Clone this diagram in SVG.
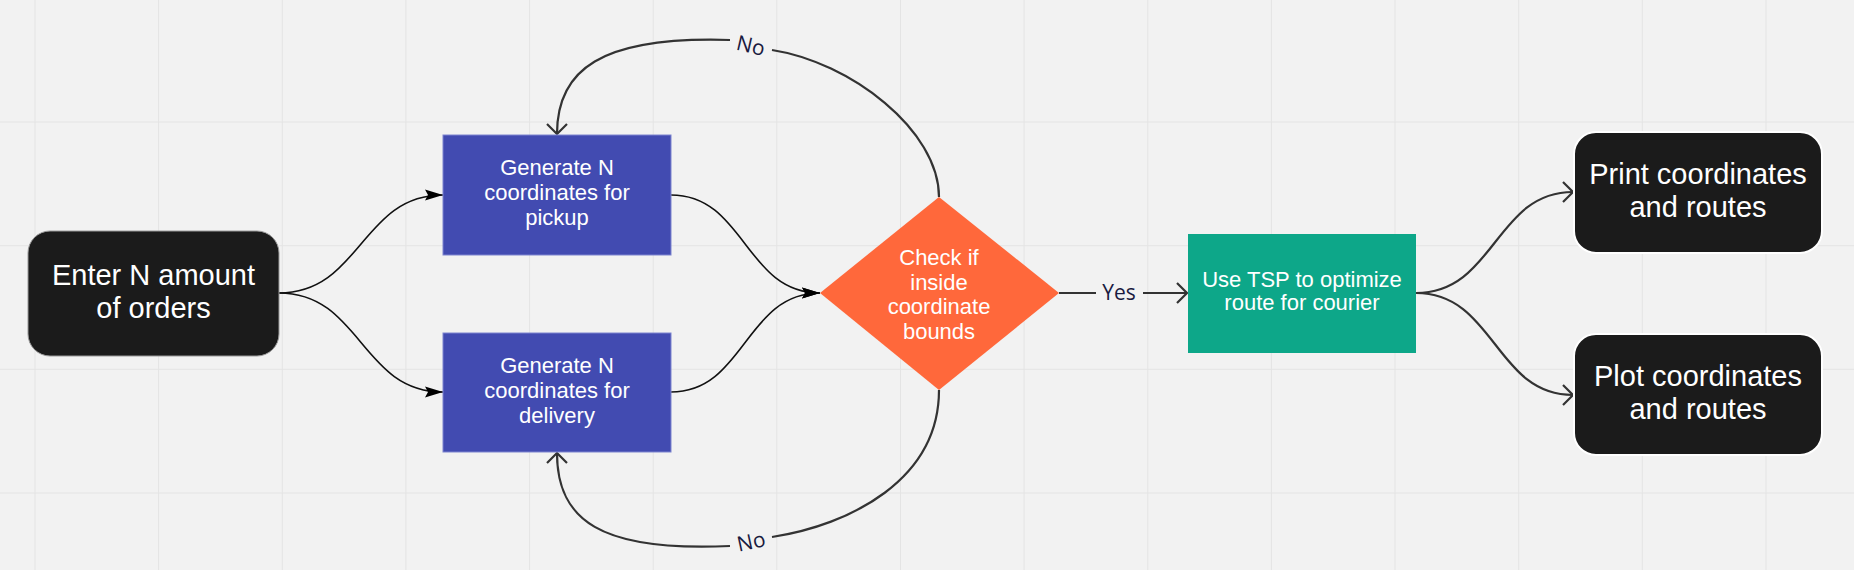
<svg xmlns="http://www.w3.org/2000/svg" width="1854" height="570" viewBox="0 0 1854 570">
<style>
.grid{stroke:#e4e4e4;stroke-width:1}
.big{font-family:"Liberation Sans",Arial,sans-serif;font-size:29px;fill:#ffffff;text-anchor:middle}
.mid{font-family:"Liberation Sans",Arial,sans-serif;font-size:22px;fill:#ffffff;text-anchor:middle}
.lbl{font-family:"Open Sans","Noto Sans",sans-serif;font-size:21px;fill:#1a1a40;text-anchor:middle;dominant-baseline:central}
.thin{fill:none;stroke:#111111;stroke-width:1.6}
.thick{fill:none;stroke:#333333;stroke-width:2.2}
.dark{fill:#1b1b1b}
.blue{fill:#424bb1;stroke:#7d84cf;stroke-width:1}
</style>
<defs>
<marker id="fillArrow" viewBox="0 0 18 12" refX="18" refY="6" markerWidth="18" markerHeight="12" markerUnits="userSpaceOnUse" orient="auto">
<path d="M0,0.5 L18,6 L0,11.5 L3,6 z" fill="#000000"/>
</marker>
<marker id="openArrow" viewBox="-13 -12 15 24" refX="0" refY="0" markerWidth="15" markerHeight="24" markerUnits="userSpaceOnUse" orient="auto">
<path d="M-10,-10 L0,0 L-10,10" fill="none" stroke="#333333" stroke-width="2.2"/>
</marker>
</defs>
<rect x="0" y="0" width="1854" height="570" fill="#f2f2f2"/>
<g id="grid">
<line class="grid" x1="35" y1="0" x2="35" y2="570"/>
<line class="grid" x1="158.6" y1="0" x2="158.6" y2="570"/>
<line class="grid" x1="282.3" y1="0" x2="282.3" y2="570"/>
<line class="grid" x1="405.9" y1="0" x2="405.9" y2="570"/>
<line class="grid" x1="529.6" y1="0" x2="529.6" y2="570"/>
<line class="grid" x1="653.2" y1="0" x2="653.2" y2="570"/>
<line class="grid" x1="776.8" y1="0" x2="776.8" y2="570"/>
<line class="grid" x1="900.5" y1="0" x2="900.5" y2="570"/>
<line class="grid" x1="1024.1" y1="0" x2="1024.1" y2="570"/>
<line class="grid" x1="1147.8" y1="0" x2="1147.8" y2="570"/>
<line class="grid" x1="1271.4" y1="0" x2="1271.4" y2="570"/>
<line class="grid" x1="1395" y1="0" x2="1395" y2="570"/>
<line class="grid" x1="1518.7" y1="0" x2="1518.7" y2="570"/>
<line class="grid" x1="1642.3" y1="0" x2="1642.3" y2="570"/>
<line class="grid" x1="1766" y1="0" x2="1766" y2="570"/>
<line class="grid" x1="0" y1="122" x2="1854" y2="122"/>
<line class="grid" x1="0" y1="245.7" x2="1854" y2="245.7"/>
<line class="grid" x1="0" y1="369.3" x2="1854" y2="369.3"/>
<line class="grid" x1="0" y1="493" x2="1854" y2="493"/>
</g>
<g id="connectors">
<path class="thin" d="M279,293 C361,293 361,195 443,195" marker-end="url(#fillArrow)"/>
<path class="thin" d="M279,293 C361,293 361,392 443,392" marker-end="url(#fillArrow)"/>
<path class="thin" d="M671,195 C745,195 745,293 820,293" marker-end="url(#fillArrow)"/>
<path class="thin" d="M671,392 C745,392 745,293 820,293" marker-end="url(#fillArrow)"/>
<path class="thick" d="M939,197 C939,130 850,62 772,50"/>
<path class="thick" d="M730,40 C600,36 557,70 557,134" marker-end="url(#openArrow)"/>
<text class="lbl" x="751" y="45" transform="rotate(13 751 45)">No</text>
<path class="thick" d="M939,390 C939,480 850,525 772,537"/>
<path class="thick" d="M730,546 C600,552 557,520 557,453" marker-end="url(#openArrow)"/>
<text class="lbl" x="751" y="541" transform="rotate(-12 751 541)">No</text>
<path class="thick" d="M1059,293 L1096,293"/>
<path class="thick" d="M1143,293 L1187,293" marker-end="url(#openArrow)"/>
<text class="lbl" x="1119" y="292">Yes</text>
<path class="thick" d="M1416,293 C1495,293 1495,192 1573,192" marker-end="url(#openArrow)"/>
<path class="thick" d="M1416,293 C1495,293 1495,395 1573,395" marker-end="url(#openArrow)"/>
</g>
<g id="node-enter">
<rect class="dark" x="28" y="231" width="251" height="125" rx="22" stroke="#9a9a9a" stroke-width="1"/>
<text class="big" x="153.5" y="285">Enter N amount</text>
<text class="big" x="153.5" y="318">of orders</text>
</g>
<g id="node-pickup">
<rect class="blue" x="443" y="135" width="228" height="120"/>
<text class="mid" x="557" y="175">Generate N</text>
<text class="mid" x="557" y="200">coordinates for</text>
<text class="mid" x="557" y="225">pickup</text>
</g>
<g id="node-delivery">
<rect class="blue" x="443" y="333" width="228" height="119"/>
<text class="mid" x="557" y="373">Generate N</text>
<text class="mid" x="557" y="398">coordinates for</text>
<text class="mid" x="557" y="423">delivery</text>
</g>
<g id="node-check">
<polygon points="939,197 1059,293 939,390 820,293" fill="#ff683b"/>
<text class="mid" x="939" y="265">Check if</text>
<text class="mid" x="939" y="290">inside</text>
<text class="mid" x="939" y="314">coordinate</text>
<text class="mid" x="939" y="339">bounds</text>
</g>
<g id="node-tsp">
<rect x="1188" y="234" width="228" height="119" fill="#0da789"/>
<text class="mid" x="1302" y="287">Use TSP to optimize</text>
<text class="mid" x="1302" y="310">route for courier</text>
</g>
<g id="node-print">
<rect class="dark" x="1574" y="132" width="248" height="121" rx="22" stroke="#ffffff" stroke-width="2"/>
<text class="big" x="1698" y="184">Print coordinates</text>
<text class="big" x="1698" y="217">and routes</text>
</g>
<g id="node-plot">
<rect class="dark" x="1574" y="334" width="248" height="121" rx="22" stroke="#ffffff" stroke-width="2"/>
<text class="big" x="1698" y="386">Plot coordinates</text>
<text class="big" x="1698" y="419">and routes</text>
</g>
</svg>
